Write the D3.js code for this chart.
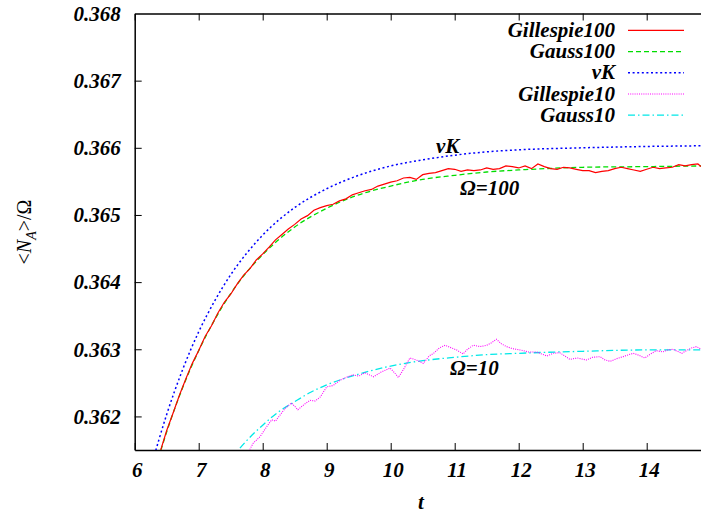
<!DOCTYPE html>
<html>
<head>
<meta charset="utf-8">
<script src="https://cdn.jsdelivr.net/npm/d3@7"></script>
<style>
  html, body { margin: 0; padding: 0; background: #fff; }
  svg { display: block; }
</style>
</head>
<body>
<script>
// ---- data ----
const xTicks = [6, 7, 8, 9, 10, 11, 12, 13, 14];
const yTicks = [0.362, 0.363, 0.364, 0.365, 0.366, 0.367, 0.368];

// deterministic rate-equation curve (van Kampen)
const vkT = [6.25, 6.5, 6.75, 7, 7.25, 7.5, 7.75, 8, 8.5, 9, 9.5, 10, 10.5, 11, 11.5, 12, 13, 14, 14.85];
const vkV = [0.36123, 0.36203, 0.36270, 0.36326, 0.36372, 0.36411, 0.36443, 0.36470, 0.36511, 0.36539,
             0.36559, 0.36573, 0.36582, 0.36589, 0.36594, 0.36597, 0.36600, 0.36602, 0.36603];

// Gaussian approximation, Omega = 100
const gauss100T = [6.3, 6.5, 6.75, 7, 7.25, 7.5, 7.75, 8, 8.5, 9, 9.5, 10, 10.5, 11, 11.5, 12, 13, 14, 14.85];
const gauss100V = [0.36115, 0.36177, 0.36243, 0.36298, 0.36344, 0.36383, 0.36415, 0.36441, 0.36482, 0.36510,
                   0.36530, 0.36543, 0.36553, 0.36559, 0.36564, 0.36567, 0.36571, 0.36572, 0.36573];

// Gaussian approximation, Omega = 10
const gauss10T = [7.5, 7.75, 8, 8.25, 8.5, 8.75, 9, 9.5, 10, 10.5, 11, 11.5, 12, 13, 14, 14.85];
const gauss10V = [0.36136, 0.36164, 0.36187, 0.36207, 0.36222, 0.36236, 0.36247, 0.36263, 0.36275,
                  0.36283, 0.36288, 0.36292, 0.36294, 0.36297, 0.36299, 0.36299];

// Gillespie simulation average, Omega = 100
const gil100T = [6.3, 6.4, 6.5, 6.6, 6.7, 6.8, 6.9, 7.0, 7.1, 7.2, 7.3, 7.4, 7.5, 7.6, 7.7, 7.8, 7.9, 8.0,
                 8.1, 8.2, 8.3, 8.4, 8.5, 8.6, 8.7, 8.8, 8.9, 9.0, 9.1, 9.2, 9.3, 9.4, 9.5, 9.6, 9.7, 9.8,
                 9.9, 10.0, 10.1, 10.2, 10.3, 10.4, 10.5, 10.6, 10.7, 10.8, 10.9, 11.0, 11.1, 11.2, 11.3,
                 11.4, 11.5, 11.6, 11.7, 11.8, 11.9, 12.0, 12.1, 12.2, 12.3, 12.4, 12.5, 12.6, 12.7, 12.8,
                 12.9, 13.0, 13.1, 13.2, 13.3, 13.4, 13.5, 13.6, 13.7, 13.8, 13.9, 14.0, 14.1, 14.2, 14.3,
                 14.4, 14.5, 14.6, 14.7, 14.8, 14.85];
const gil100V = [0.36114, 0.36148, 0.36179, 0.36205, 0.36232, 0.36256, 0.36279, 0.36298, 0.36319, 0.36335,
                 0.36354, 0.36370, 0.36382, 0.36397, 0.36410, 0.36420, 0.36433, 0.36442, 0.36452, 0.36463,
                 0.36471, 0.36479, 0.36486, 0.36494, 0.36499, 0.36507, 0.36511, 0.36514, 0.36516, 0.36521,
                 0.36524, 0.36530, 0.36533, 0.36536, 0.36538, 0.36543, 0.36546, 0.36549, 0.36551, 0.36555,
                 0.36556, 0.36553, 0.36560, 0.36562, 0.36563, 0.36566, 0.36569, 0.36568, 0.36565, 0.36567,
                 0.36566, 0.36567, 0.36570, 0.36568, 0.36569, 0.36573, 0.36572, 0.36570, 0.36573, 0.36569,
                 0.36576, 0.36572, 0.36569, 0.36568, 0.36571, 0.36570, 0.36568, 0.36566, 0.36566, 0.36563,
                 0.36565, 0.36566, 0.36569, 0.36571, 0.36569, 0.36567, 0.36565, 0.36568, 0.36571, 0.36569,
                 0.36570, 0.36571, 0.36575, 0.36573, 0.36575, 0.36576, 0.36572];

// Gillespie simulation average, Omega = 10
const gil10T = [7.75, 7.85, 7.96, 8.05, 8.14, 8.2, 8.27, 8.35, 8.45, 8.55, 8.65, 8.74, 8.82, 8.9, 9.0, 9.1,
                9.21, 9.3, 9.41, 9.5, 9.6, 9.73, 9.85, 9.99, 10.05, 10.12, 10.2, 10.3, 10.4, 10.51, 10.6,
                10.67, 10.76, 10.85, 10.95, 11.03, 11.13, 11.2, 11.29, 11.4, 11.5, 11.58, 11.65, 11.73,
                11.81, 11.9, 12.02, 12.15, 12.28, 12.36, 12.44, 12.54, 12.64, 12.72, 12.8, 12.92, 13.06,
                13.15, 13.27, 13.35, 13.43, 13.53, 13.63, 13.72, 13.79, 13.88, 13.97, 14.06, 14.15, 14.25,
                14.33, 14.41, 14.48, 14.55, 14.62, 14.7, 14.78, 14.85];
const gil10V = [0.36142, 0.36160, 0.36170, 0.36183, 0.36195, 0.36193, 0.36202, 0.36212, 0.36220, 0.36210,
                0.36218, 0.36224, 0.36223, 0.36229, 0.36244, 0.36246, 0.36254, 0.36258, 0.36262, 0.36260,
                0.36265, 0.36259, 0.36266, 0.36272, 0.36266, 0.36258, 0.36270, 0.36287, 0.36284, 0.36279,
                0.36290, 0.36294, 0.36302, 0.36306, 0.36302, 0.36299, 0.36293, 0.36300, 0.36306, 0.36304,
                0.36306, 0.36310, 0.36315, 0.36308, 0.36304, 0.36301, 0.36299, 0.36296, 0.36296, 0.36293,
                0.36290, 0.36294, 0.36295, 0.36290, 0.36285, 0.36287, 0.36284, 0.36288, 0.36289, 0.36284,
                0.36282, 0.36286, 0.36289, 0.36292, 0.36294, 0.36291, 0.36287, 0.36293, 0.36298, 0.36296,
                0.36299, 0.36300, 0.36297, 0.36294, 0.36298, 0.36302, 0.36304, 0.36300];

const seriesNames = ["Gillespie100", "Gauss100", "vK", "Gillespie10", "Gauss10"];
const seriesColors = ["#ff0000", "#00dd00", "#0000ff", "#ff00ff", "#00e8e8"];

// ---- layout ----
const W = 701, H = 514;
const mLeft = 134.7, mTop = 13.5, mBottom = 450, mRight = 701.1;
const serif = "'Liberation Serif'";
const fontSize = 21;

// bold-italic serif label style
const lbl = sel => sel.style("font-family", serif).style("font-style", "italic")
  .style("font-weight", "bold").style("font-size", fontSize + "px").attr("fill", "#000");

const x = d3.scaleLinear().domain([6, 14.85]).range([mLeft, mRight]);
const y = d3.scaleLinear().domain([0.3615, 0.368]).range([mBottom, mTop]);

const svg = d3.select("body").append("svg").attr("width", W).attr("height", H);

svg.append("defs").append("clipPath").attr("id", "plotclip")
  .append("rect").attr("x", mLeft).attr("y", mTop).attr("width", mRight - mLeft).attr("height", mBottom - mTop);

// ---- axes ----
const axisStyle = g => {
  g.select(".domain").attr("stroke", "#000").attr("stroke-width", 1.5);
  g.selectAll(".tick line").attr("stroke", "#000").attr("stroke-width", 1);
};

const gx = svg.append("g").attr("transform", `translate(0,${mBottom})`)
  .call(d3.axisBottom(x).tickValues(xTicks).tickFormat(d3.format("d")).tickSizeInner(-7).tickSizeOuter(0).tickPadding(12));
gx.call(axisStyle);
gx.selectAll(".tick text").call(lbl).attr("dy", "0.71em").attr("dx", 2);

const gxTop = svg.append("g").attr("transform", `translate(0,${mTop})`)
  .call(d3.axisTop(x).tickValues(xTicks).tickFormat("").tickSizeInner(-7).tickSizeOuter(0));
gxTop.call(axisStyle);

const gy = svg.append("g").attr("transform", `translate(${mLeft},0)`)
  .call(d3.axisLeft(y).tickValues(yTicks).tickFormat(d3.format(".3f")).tickSizeInner(-7).tickSizeOuter(0).tickPadding(14));
gy.call(axisStyle);
gy.selectAll(".tick text").call(lbl);
gy.selectAll(".tick").filter(d => d === 0.368).select("line").remove();

// axis titles
svg.append("text").attr("x", 421).attr("y", 509).attr("text-anchor", "middle").call(lbl).text("t");

const yl = svg.append("text")
  .attr("transform", "translate(31,232) rotate(-90)")
  .attr("text-anchor", "middle")
  .style("font-family", serif)
  .style("font-size", "20px");
yl.append("tspan").text("<");
yl.append("tspan").style("font-style", "italic").text("N");
yl.append("tspan").style("font-style", "italic").style("font-size", "14px").attr("dy", 5).text("A");
yl.append("tspan").attr("dy", -5).text(">/Ω");

// ---- curves ----
const plot = svg.append("g").attr("clip-path", "url(#plotclip)");

const smoothLine = d3.line().x(d => x(d[0])).y(d => y(d[1])).curve(d3.curveMonotoneX);
const rawLine = d3.line().x(d => x(d[0])).y(d => y(d[1]));

const zip = (a, b) => a.map((t, i) => [t, b[i]]);

const series = [
  { name: "Gauss10",      data: zip(gauss10T, gauss10V),   gen: smoothLine, color: seriesColors[4], dash: "7,3,1.5,3", w: 1.3 },
  { name: "Gillespie10",  data: zip(gil10T, gil10V),       gen: rawLine,    color: seriesColors[3], dash: "1,1.2",     w: 1.1 },
  { name: "vK",           data: zip(vkT, vkV),             gen: smoothLine, color: seriesColors[2], dash: "2,2.6",     w: 1.5 },
  { name: "Gauss100",     data: zip(gauss100T, gauss100V), gen: smoothLine, color: seriesColors[1], dash: "5,3",       w: 1.3 },
  { name: "Gillespie100", data: zip(gil100T, gil100V),     gen: rawLine,    color: seriesColors[0], dash: null,        w: 1.2 }
];

series.forEach(s => {
  plot.append("path").datum(s.data)
    .attr("d", s.gen)
    .attr("fill", "none")
    .attr("stroke", s.color)
    .attr("stroke-width", s.w)
    .attr("stroke-dasharray", s.dash);
});

// ---- in-plot annotations ----
svg.append("text").call(lbl).attr("x", 436).attr("y", 153).text("vK");
svg.append("text").call(lbl).attr("x", 460).attr("y", 195).text("Ω=100");
svg.append("text").call(lbl).attr("x", 450).attr("y", 375).text("Ω=10");

// ---- legend ----
const legendRows = [30.3, 51.6, 72.8, 94, 115.2];
const legend = svg.append("g");
seriesNames.forEach((name, i) => {
  const s = series.find(d => d.name === name);
  const row = legend.append("g").attr("transform", `translate(0,${legendRows[i]})`);
  row.append("text").call(lbl).attr("x", 615).attr("y", 6.5).attr("text-anchor", "end").text(name);
  row.append("line").attr("x1", 628).attr("x2", 684).attr("y1", 0).attr("y2", 0)
    .attr("stroke", s.color).attr("stroke-width", s.w).attr("stroke-dasharray", s.dash);
});
</script>
</body>
</html>
